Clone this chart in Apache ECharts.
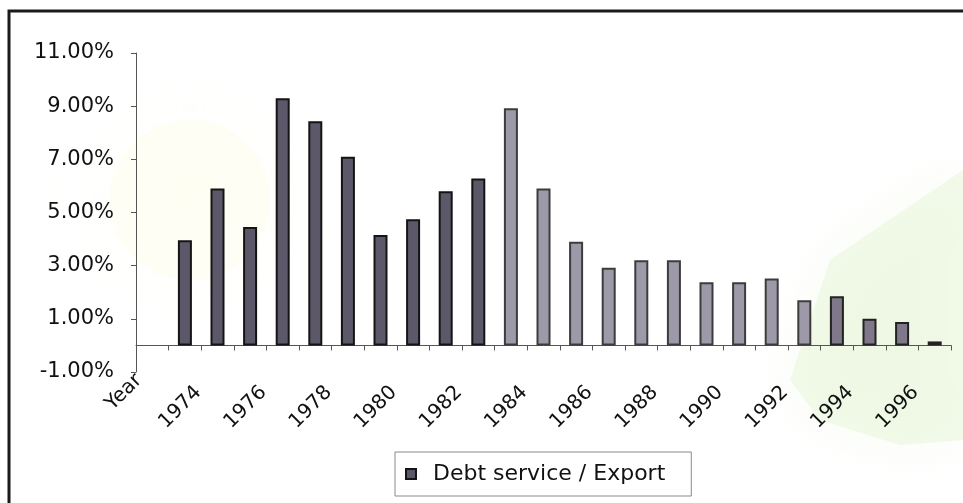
<!DOCTYPE html>
<html>
<head>
<meta charset="utf-8">
<script src="https://cdn.jsdelivr.net/npm/echarts@6/dist/echarts.min.js"></script>
<style>
  html, body { margin: 0; padding: 0; background: #ffffff; }
  #chart { width: 963px; height: 503px; }
</style>
</head>
<body>
<div id="chart"></div>
<script>
// ---- data ----
const categories = ['Year', '1974', '1975', '1976', '1977', '1978', '1979', '1980', '1981', '1982', '1983',
  '1984', '1985', '1986', '1987', '1988', '1989', '1990', '1991', '1992', '1993', '1994', '1995', '1996', '1997'];
const debtServiceExport = [null, 3.96, 5.9, 4.45, 9.3, 8.43, 7.1, 4.15, 4.75, 5.8, 6.28,
  8.92, 5.9, 3.9, 2.92, 3.2, 3.2, 2.38, 2.38, 2.52, 1.7, 1.85, 1.0, 0.88, 0.15];
const seriesName = 'Debt service / Export';
const yTicks = { min: -1, max: 11, step: 2 };

const FONT = 'DejaVu Sans';

function styleFor(year) {
  const y = parseInt(year, 10);
  if (y <= 1983) return { color: '#5c5869', borderColor: '#141414', borderWidth: 2 };
  if (y <= 1993) return { color: '#9e99a8', borderColor: '#3c3c3c', borderWidth: 2 };
  return { color: '#7e7889', borderColor: '#222222', borderWidth: 2 };
}

const seriesData = debtServiceExport.map((v, i) => (v === null ? null : { value: v, itemStyle: styleFor(categories[i]) }));

const chart = echarts.init(document.getElementById('chart'), null, { renderer: 'canvas' });
chart.setOption({
  backgroundColor: '#ffffff',
  animation: false,
  graphic: [
    // very faint scan tint in the background
    { type: 'polygon', silent: true, z: -20,
      shape: { points: [[830, 260], [963, 170], [963, 440], [900, 445], [820, 420], [790, 380]] },
      style: { fill: 'rgba(228,245,210,0.45)', shadowBlur: 50, shadowColor: 'rgba(228,245,210,0.6)' } },
    { type: 'circle', silent: true, z: -20, shape: { cx: 190, cy: 200, r: 80 },
      style: { fill: 'rgba(253,253,238,0.5)', shadowBlur: 60, shadowColor: 'rgba(253,253,238,0.7)' } },
    // outer frame
    { type: 'rect', silent: true, z: -10, shape: { x: 9, y: 11, width: 1000, height: 600 },
      style: { fill: 'none', stroke: '#1a1a1a', lineWidth: 3 } }
  ],
  grid: { left: 136, right: 12, top: 53, bottom: 131, containLabel: false, outerBoundsMode: 'none' },
  legend: {
    left: 395, top: 452,
    padding: [10, 26, 10, 10],
    itemWidth: 10, itemHeight: 10,
    borderColor: '#8a8a8a', borderWidth: 1,
    backgroundColor: '#ffffff',
    icon: 'rect',
    textStyle: { fontFamily: FONT, fontSize: 22, color: '#111', padding: [0, 0, 0, 12], lineHeight: 24 },
    data: [seriesName]
  },
  xAxis: {
    type: 'category',
    data: categories,
    boundaryGap: true,
    name: categories[0],
    nameLocation: 'start',
    nameRotate: 45,
    nameGap: 29,
    nameMoveOverlap: false,
    nameTextStyle: { fontFamily: FONT, fontSize: 20, color: '#111', align: 'right', verticalAlign: 'top', lineHeight: 90 },
    axisLine: { onZero: true, lineStyle: { color: '#555', width: 1 } },
    axisTick: { show: true, interval: 0, length: 5, lineStyle: { color: '#555' } },
    axisLabel: {
      interval: (i) => i % 2 === 1,
      rotate: 45,
      margin: 4,
      align: 'right',
      verticalAlign: 'top',
      lineHeight: 38,
      fontFamily: FONT, fontSize: 20, color: '#111'
    },
    splitLine: { show: false }
  },
  yAxis: {
    type: 'value',
    min: yTicks.min, max: yTicks.max, interval: yTicks.step,
    axisLine: { show: true, lineStyle: { color: '#555', width: 1 } },
    axisTick: { show: true, length: 5, lineStyle: { color: '#555' } },
    axisLabel: {
      margin: 22,
      formatter: (v) => v.toFixed(2) + '%',
      fontFamily: FONT, fontSize: 21, color: '#111'
    },
    splitLine: { show: false }
  },
  series: [{
    name: seriesName,
    type: 'bar',
    barWidth: 14,
    itemStyle: { color: '#5c5869', borderColor: '#141414', borderWidth: 2 },
    data: seriesData
  }]
});
</script>
</body>
</html>
